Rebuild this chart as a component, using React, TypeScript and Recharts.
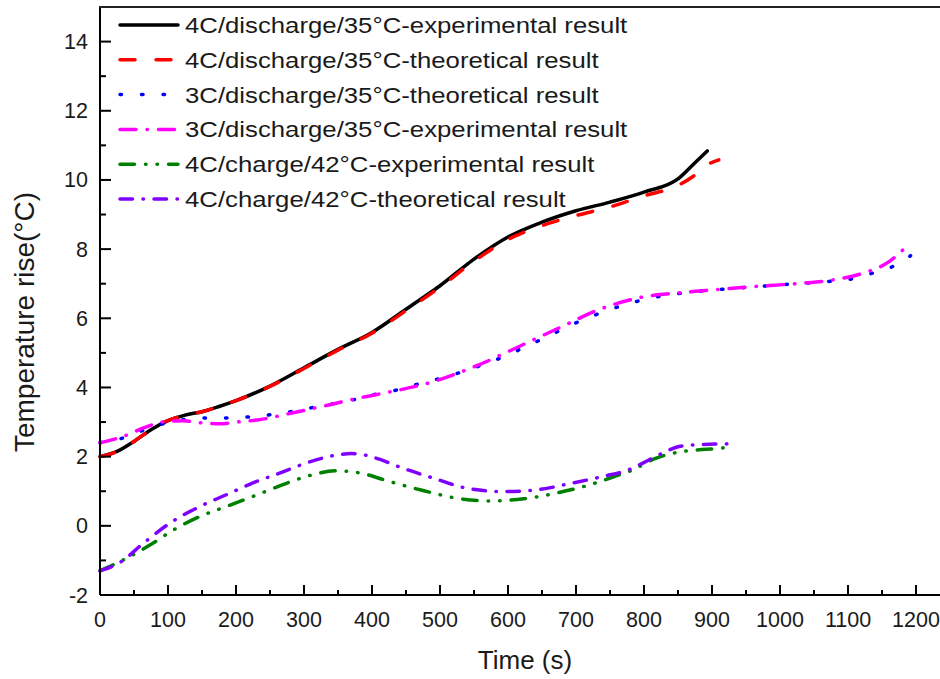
import { LineChart, Line, XAxis, YAxis, Legend } from 'recharts'

const FONT = "'Liberation Sans', Arial, Helvetica, sans-serif"

// 4C / discharge / 35°C
const dis4ExpTime = [0, 25, 50, 75, 100, 125, 150, 175, 200, 250, 300, 350, 400, 450, 500, 550, 600, 650, 700, 750, 800, 850, 875, 893]
const dis4ExpRise = [2.0, 2.15, 2.44, 2.78, 3.04, 3.2, 3.3, 3.45, 3.62, 4.04, 4.57, 5.1, 5.59, 6.26, 6.94, 7.71, 8.35, 8.78, 9.11, 9.36, 9.65, 10.03, 10.5, 10.84]
const dis4TheoTime = [0, 25, 50, 75, 100, 125, 150, 175, 200, 250, 300, 350, 400, 450, 500, 550, 600, 650, 700, 750, 800, 850, 872, 894, 910]
const dis4TheoRise = [2.0, 2.15, 2.44, 2.78, 3.04, 3.2, 3.3, 3.45, 3.62, 4.03, 4.55, 5.08, 5.57, 6.22, 6.9, 7.65, 8.28, 8.68, 8.97, 9.22, 9.54, 9.84, 10.1, 10.45, 10.58]

// 3C / discharge / 35°C
const dis3TheoTime = [0, 34, 66, 98, 130, 164, 196, 230, 262, 297, 331, 363, 397, 429, 461, 524, 586, 647, 706, 770, 833, 870, 936, 1002, 1069, 1103, 1135, 1165, 1192]
const dis3TheoRise = [2.4, 2.54, 2.78, 2.98, 3.09, 3.12, 3.12, 3.17, 3.24, 3.36, 3.49, 3.6, 3.77, 3.89, 4.06, 4.4, 4.83, 5.37, 5.92, 6.38, 6.67, 6.76, 6.87, 6.97, 7.06, 7.13, 7.3, 7.49, 7.81]
const dis3ExpTime = [0, 39, 64, 98, 122, 147, 176, 201, 235, 284, 333, 382, 431, 485, 559, 618, 676, 735, 794, 853, 882, 956, 1029, 1078, 1118, 1162, 1190]
const dis3ExpRise = [2.4, 2.62, 2.83, 3.02, 3.04, 2.98, 2.95, 3.0, 3.07, 3.27, 3.48, 3.7, 3.89, 4.14, 4.67, 5.2, 5.73, 6.26, 6.6, 6.74, 6.79, 6.91, 7.01, 7.11, 7.28, 7.66, 8.16]

// 4C / charge / 42°C
const ch4ExpTime = [0, 39, 74, 108, 147, 186, 225, 265, 304, 348, 382, 426, 475, 534, 574, 623, 672, 721, 760, 784, 814, 841, 865, 897, 930]
const ch4ExpRise = [-1.3, -0.94, -0.55, -0.12, 0.27, 0.56, 0.85, 1.16, 1.43, 1.59, 1.53, 1.28, 1.02, 0.77, 0.72, 0.78, 0.95, 1.19, 1.45, 1.62, 1.93, 2.09, 2.17, 2.22, 2.28]
const ch4TheoTime = [0, 30, 64, 103, 147, 186, 225, 265, 304, 343, 370, 412, 431, 490, 539, 593, 642, 691, 740, 775, 799, 828, 853, 882, 925]
const ch4TheoRise = [-1.3, -1.05, -0.5, 0.08, 0.56, 0.9, 1.24, 1.53, 1.82, 2.03, 2.09, 1.92, 1.77, 1.38, 1.09, 0.99, 1.04, 1.22, 1.43, 1.6, 1.82, 2.11, 2.3, 2.35, 2.37]

const xTicks = [0, 50, 100, 150, 200, 250, 300, 350, 400, 450, 500, 550, 600, 650, 700, 750, 800, 850, 900, 950, 1000, 1050, 1100, 1150, 1200, 1250]
const yTicks = [-2, -1, 0, 1, 2, 3, 4, 5, 6, 7, 8, 9, 10, 11, 12, 13, 14]

const CHART_W = 960
const TOP = 7
const AXIS_W = 100

const zip = (t: number[], v: number[]) => t.map((x, i) => ({ t: x, y: v[i] }))

const series = [
  { name: '4C/discharge/35°C-experimental result', data: zip(dis4ExpTime, dis4ExpRise), color: '#000000', dash: undefined },
  { name: '4C/discharge/35°C-theoretical result', data: zip(dis4TheoTime, dis4TheoRise), color: '#ff0000', dash: '15 21' },
  { name: '3C/discharge/35°C-theoretical result', data: zip(dis3TheoTime, dis3TheoRise), color: '#0000ff', dash: '1.5 20' },
  { name: '3C/discharge/35°C-experimental result', data: zip(dis3ExpTime, dis3ExpRise), color: '#ff00ff', dash: '16 11 0.5 11' },
  { name: '4C/charge/42°C-experimental result', data: zip(ch4ExpTime, ch4ExpRise), color: '#008000', dash: '14.5 11 0.5 11 0.5 11' },
  { name: '4C/charge/42°C-theoretical result', data: zip(ch4TheoTime, ch4TheoRise), color: '#8000ff', dash: '12.5 10.5 0.5 10.5' },
]

function XTick({ x, y, payload }: any) {
  const v = payload.value
  const major = v % 100 === 0
  return (
    <g>
      <line x1={x} x2={x} y1={y} y2={y - (major ? 10 : 5)} stroke="#000" strokeWidth={2} />
      {major && (
        <text x={x} y={y + 32} textAnchor="middle" fontSize={21.5} fontFamily={FONT} fill="#1a1a1a">
          {v}
        </text>
      )}
    </g>
  )
}

function YTick({ x, y, payload }: any) {
  const v = payload.value
  const major = v % 2 === 0
  return (
    <g>
      <line x1={x} x2={x + (major ? 11 : 6)} y1={y} y2={y} stroke="#000" strokeWidth={2} />
      {major && (
        <text x={x - 12} y={y + 7.5} textAnchor="end" fontSize={21.5} fontFamily={FONT} fill="#1a1a1a">
          {v}
        </text>
      )}
    </g>
  )
}

function YLabel({ viewBox }: any) {
  const cx = viewBox.x + 34
  const cy = viewBox.y + viewBox.height / 2 + 21
  return (
    <text x={cx} y={cy} transform={`rotate(-90, ${cx}, ${cy})`} textAnchor="middle" fontSize={28} fontFamily={FONT} fill="#1a1a1a">
      Temperature rise(°C)
    </text>
  )
}

// legend box spans the full plot width so it can also carry the top edge of the frame
const LEG_LEFT = AXIS_W - 1
const LEG_TOP = TOP - 2
const LEG_W = 940 - LEG_LEFT

function LegendBox() {
  return (
    <svg width={LEG_W} height={225} style={{ display: 'block' }}>
      <line x1={0} x2={LEG_W} y1={2} y2={2} stroke="#222" strokeWidth={2} />
      {series.map((s, i) => {
        const cy = 20 + i * 34.8
        return (
          <g key={s.name}>
            <line x1={21} x2={79} y1={cy} y2={cy} stroke={s.color} strokeWidth={3.5} strokeDasharray={s.dash} strokeLinecap="round" />
            <text transform={`translate(86, ${cy + 8}) scale(1.17, 1)`} fontSize={22} fontFamily={FONT} fill="#1a1a1a">
              {s.name}
            </text>
          </g>
        )
      })}
    </svg>
  )
}

export default function App() {
  return (
    <div style={{ position: 'absolute', left: 0, top: 0, width: 940, height: 679, overflow: 'hidden', background: '#fff' }}>
      <LineChart width={CHART_W} height={679} margin={{ top: TOP, right: 10, bottom: 0, left: 0 }}>
        <XAxis
          dataKey="t"
          type="number"
          domain={[0, 1250]}
          ticks={xTicks}
          interval={0}
          height={84}
          tickSize={0}
          tickMargin={0}
          tickLine={false}
          tick={<XTick />}
          axisLine={{ stroke: '#000', strokeWidth: 2 }}
          allowDuplicatedCategory={false}
          label={{ value: 'Time (s)', position: 'insideBottom', offset: 10, fontSize: 26, fontFamily: FONT, fill: '#1a1a1a' }}
        />
        <YAxis
          type="number"
          domain={[-2, 15]}
          ticks={yTicks}
          interval={0}
          width={AXIS_W}
          tickSize={0}
          tickMargin={0}
          tickLine={false}
          tick={<YTick />}
          axisLine={{ stroke: '#000', strokeWidth: 2 }}
          label={<YLabel />}
        />
        <Legend
          layout="vertical"
          align="center"
          verticalAlign="middle"
          content={<LegendBox />}
          wrapperStyle={{ top: LEG_TOP, left: LEG_LEFT, width: LEG_W, height: 225, margin: 0, padding: 0 }}
        />
        {series.map((s) => (
          <Line
            key={s.name}
            data={s.data}
            dataKey="y"
            name={s.name}
            type="monotone"
            stroke={s.color}
            strokeWidth={3.5}
            strokeDasharray={s.dash}
            strokeLinecap="round"
            dot={false}
            activeDot={false}
            isAnimationActive={false}
          />
        ))}
      </LineChart>
    </div>
  )
}
